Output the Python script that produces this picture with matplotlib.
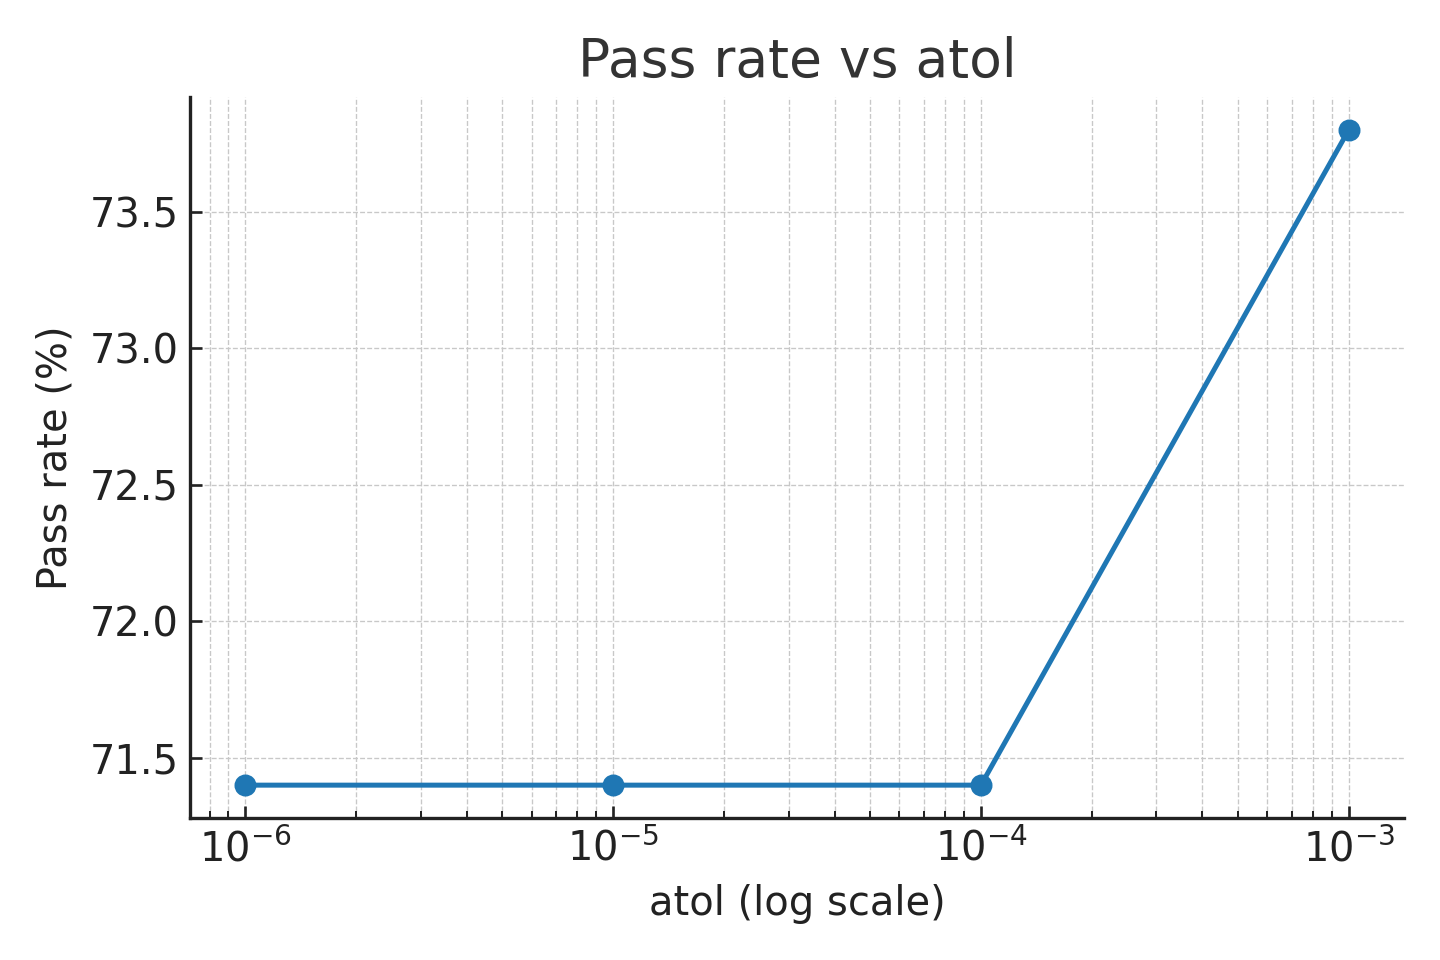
import numpy as np
import matplotlib
matplotlib.use("Agg")
import matplotlib.pyplot as plt

atol = [1e-6, 1e-5, 1e-4, 1e-3]
pass_rate = [71.4, 71.4, 71.4, 73.8]

fig, ax = plt.subplots(figsize=(6, 4), dpi=240)
ax.plot(atol, pass_rate, marker='o', color='#1f77b4', linewidth=1.5, markersize=5.6)
ax.set_xscale('log')
ax.set_title('Pass rate vs atol', fontsize=16, color='#333333')
ax.set_xlabel('atol (log scale)', fontsize=12, color='#222222')
ax.set_ylabel('Pass rate (%)', fontsize=12, color='#222222')
ax.tick_params(axis='both', which='both', direction='in', labelsize=12, colors='#222222')
ax.grid(True, which='both', linestyle='--', linewidth=0.4, color='#c8c8c8')
ax.spines['top'].set_visible(False)
ax.spines['right'].set_visible(False)
for s in ['left', 'bottom']:
    ax.spines[s].set_color('#222222')
    ax.spines[s].set_linewidth(1.0)
fig.subplots_adjust(left=0.132, right=0.975, bottom=0.148, top=0.899)
plt.savefig('out.png')
